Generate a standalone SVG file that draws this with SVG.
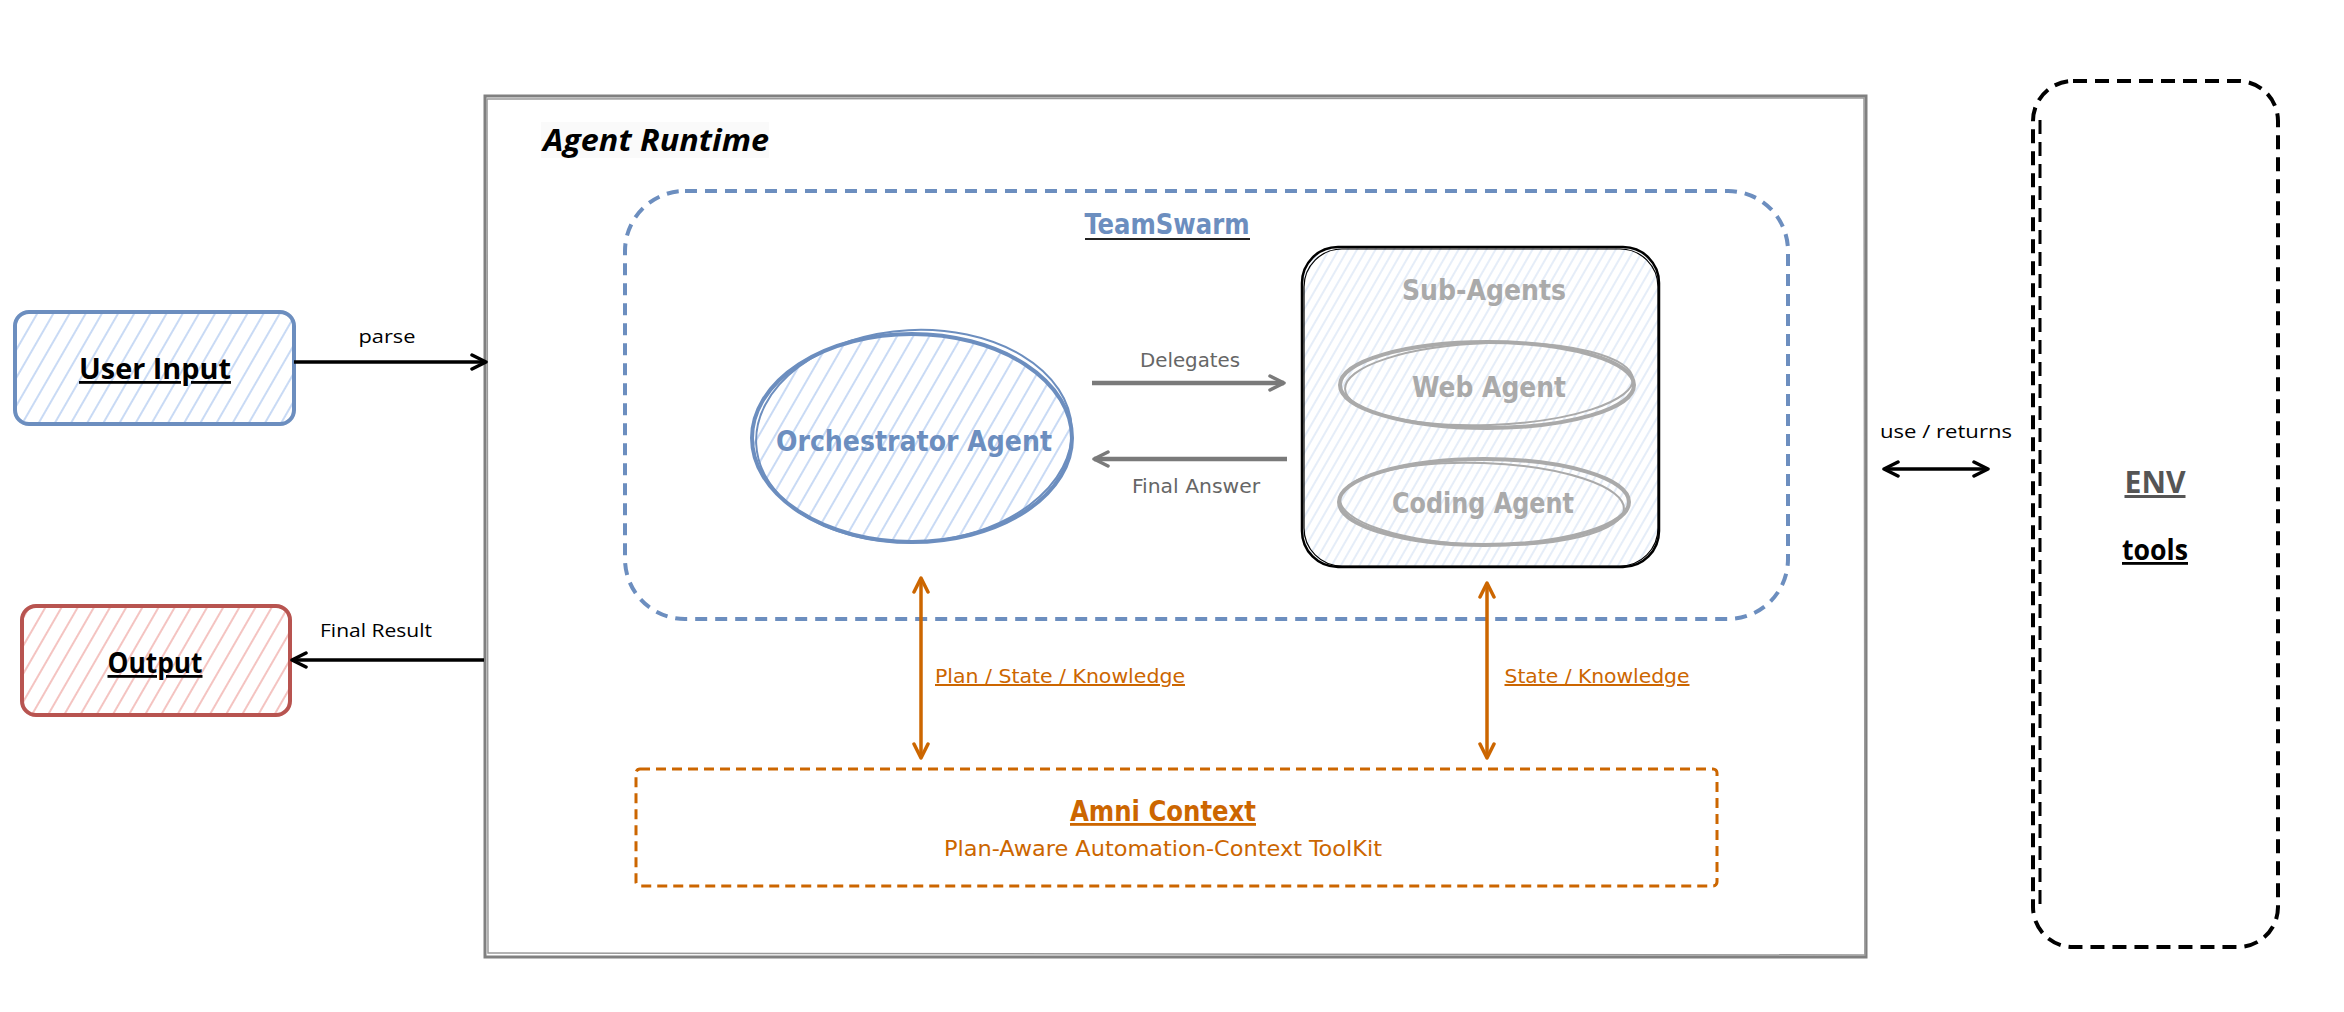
<svg xmlns="http://www.w3.org/2000/svg" width="2344" height="1012" viewBox="0 0 2344 1012">
<style>
.hand{font-family:"Liberation Sans Narrow","DejaVu Sans Condensed","Roboto",sans-serif}
.round{font-family:"Open Sans","Noto Sans","DejaVu Sans",sans-serif}
.ul{text-decoration:underline}
.b{font-weight:bold}
</style>
<defs>
<pattern id="hBlue" width="14" height="14" patternUnits="userSpaceOnUse" patternTransform="rotate(30)">
<line x1="7" y1="0" x2="7" y2="14" stroke="#bfd4f3" stroke-width="1.7"/>
</pattern>
<pattern id="hRed" width="14" height="14" patternUnits="userSpaceOnUse" patternTransform="rotate(30)">
<line x1="7" y1="0" x2="7" y2="14" stroke="#f2b9b6" stroke-width="1.7"/>
</pattern>
<pattern id="hSub" width="8" height="8" patternUnits="userSpaceOnUse" patternTransform="rotate(30)">
<line x1="4" y1="0" x2="4" y2="8" stroke="#d3e1f4" stroke-width="1.2"/>
</pattern>
<marker id="aBlack" viewBox="0 0 20 20" refX="18" refY="10" markerWidth="20" markerHeight="20" markerUnits="userSpaceOnUse" orient="auto-start-reverse">
<path d="M4,3 L18,10 L4,17" fill="none" stroke="#000" stroke-width="3.5" stroke-linecap="round" stroke-linejoin="round"/>
</marker>
<marker id="aGray" viewBox="0 0 20 20" refX="18" refY="10" markerWidth="20" markerHeight="20" markerUnits="userSpaceOnUse" orient="auto-start-reverse">
<path d="M4,3 L18,10 L4,17" fill="none" stroke="#7a7a7a" stroke-width="3.5" stroke-linecap="round" stroke-linejoin="round"/>
</marker>
<marker id="aOrange" viewBox="0 0 20 20" refX="18" refY="10" markerWidth="20" markerHeight="20" markerUnits="userSpaceOnUse" orient="auto-start-reverse">
<path d="M4,3 L18,10 L4,17" fill="none" stroke="#cc6600" stroke-width="3.5" stroke-linecap="round" stroke-linejoin="round"/>
</marker>
</defs>

<rect width="2344" height="1012" fill="#ffffff"/>

<g id="agent-runtime">
<rect x="485" y="96" width="1381" height="861" fill="none" stroke="#808080" stroke-width="3"/>
<path d="M487,99 L1864,98 L1865,955 L488,953 Z" fill="none" stroke="#9a9a9a" stroke-width="1.5"/>
<rect x="541" y="122" width="228" height="36" fill="#fafafa"/>
<text x="543" y="151" class="round b" font-style="italic" font-size="30" fill="#000" textLength="226" lengthAdjust="spacingAndGlyphs">Agent Runtime</text>
</g>

<g id="teamswarm">
<rect x="625" y="191" width="1163" height="428" rx="60" fill="none" stroke="#6c8ebf" stroke-width="4" stroke-dasharray="12 8"/>
<text x="1167" y="234" text-anchor="middle" class="hand b" font-size="28" fill="#6c8ebf" textLength="165" lengthAdjust="spacingAndGlyphs">TeamSwarm</text>
<line x1="1085" y1="239" x2="1250" y2="239" stroke="#222" stroke-width="2"/>
</g>

<g id="user-input">
<rect x="15" y="312" width="279" height="112" rx="14" fill="url(#hBlue)" stroke="#6c8ebf" stroke-width="4"/>
<text x="155" y="379" text-anchor="middle" class="round b ul" font-size="28" fill="#000" textLength="152" lengthAdjust="spacingAndGlyphs">User Input</text>
</g>

<g id="output">
<rect x="22" y="606" width="268" height="109" rx="14" fill="url(#hRed)" stroke="#b85450" stroke-width="4"/>
<text x="155" y="673" text-anchor="middle" class="round b ul" font-size="28" fill="#000" textLength="95" lengthAdjust="spacingAndGlyphs">Output</text>
</g>

<g id="orchestrator">
<ellipse cx="912" cy="438" rx="160" ry="104" fill="url(#hBlue)" stroke="#6c8ebf" stroke-width="4"/>
<ellipse cx="914" cy="436" rx="158" ry="106" fill="none" stroke="#6c8ebf" stroke-width="2" transform="rotate(-3 914 436)"/>
<text x="914" y="451" text-anchor="middle" class="hand b" font-size="28" fill="#6c8ebf" textLength="276" lengthAdjust="spacingAndGlyphs">Orchestrator Agent</text>
</g>

<g id="sub-agents">
<rect x="1302" y="247" width="357" height="320" rx="36" fill="url(#hSub)" stroke="#000" stroke-width="2.5"/>
<rect x="1304" y="249" width="354" height="317" rx="38" fill="none" stroke="#000" stroke-width="1.2"/>
<text x="1484" y="300" text-anchor="middle" class="hand b" font-size="28" fill="#aaaaaa" textLength="164" lengthAdjust="spacingAndGlyphs">Sub-Agents</text>
</g>

<g id="web-agent">
<ellipse cx="1487" cy="385" rx="147" ry="43" fill="none" stroke="#aaaaaa" stroke-width="4"/>
<ellipse cx="1489" cy="384" rx="144" ry="41" fill="none" stroke="#aaaaaa" stroke-width="2" transform="rotate(-2 1489 384)"/>
<text x="1489" y="397" text-anchor="middle" class="hand b" font-size="28" fill="#aaaaaa" textLength="154" lengthAdjust="spacingAndGlyphs">Web Agent</text>
</g>

<g id="coding-agent">
<ellipse cx="1484" cy="502" rx="145" ry="43" fill="none" stroke="#aaaaaa" stroke-width="4"/>
<ellipse cx="1482" cy="504" rx="142" ry="41" fill="none" stroke="#aaaaaa" stroke-width="2" transform="rotate(2 1482 504)"/>
<text x="1483" y="513" text-anchor="middle" class="hand b" font-size="28" fill="#aaaaaa" textLength="182" lengthAdjust="spacingAndGlyphs">Coding Agent</text>
</g>

<g id="amni-context">
<rect x="636" y="769" width="1081" height="117" rx="4" fill="none" stroke="#cc6600" stroke-width="3" stroke-dasharray="10 6"/>
<text x="1163" y="821" text-anchor="middle" class="hand b ul" font-size="28" fill="#cc6600" textLength="186" lengthAdjust="spacingAndGlyphs">Amni Context</text>
<text x="1163" y="856" text-anchor="middle" class="hand" font-size="22" fill="#cc6600" textLength="438" lengthAdjust="spacingAndGlyphs">Plan-Aware Automation-Context ToolKit</text>
</g>

<g id="env">
<rect x="2033" y="81" width="245" height="866" rx="40" fill="none" stroke="#000" stroke-width="4" stroke-dasharray="14 8"/>
<path d="M2040,120 L2040,910" fill="none" stroke="#000" stroke-width="3" stroke-dasharray="14 8"/>
<text x="2155" y="493" text-anchor="middle" class="round b ul" font-size="30" fill="#555555" textLength="61" lengthAdjust="spacingAndGlyphs">ENV</text>
<text x="2155" y="560" text-anchor="middle" class="round b ul" font-size="28" fill="#000" textLength="66" lengthAdjust="spacingAndGlyphs">tools</text>
</g>

<g id="connectors">
<line x1="294" y1="362" x2="486" y2="362" stroke="#000" stroke-width="3.5" marker-end="url(#aBlack)"/>
<text x="387" y="343" text-anchor="middle" class="round" font-size="18" fill="#000" textLength="57" lengthAdjust="spacingAndGlyphs">parse</text>

<line x1="484" y1="660" x2="292" y2="660" stroke="#000" stroke-width="3.5" marker-end="url(#aBlack)"/>
<text x="376" y="637" text-anchor="middle" class="round" font-size="18" fill="#000" textLength="112" lengthAdjust="spacingAndGlyphs">Final Result</text>

<line x1="1092" y1="383" x2="1284" y2="383" stroke="#7a7a7a" stroke-width="4.5" marker-end="url(#aGray)"/>
<text x="1190" y="367" text-anchor="middle" class="hand" font-size="20" fill="#666666" textLength="100" lengthAdjust="spacingAndGlyphs">Delegates</text>

<line x1="1287" y1="459" x2="1094" y2="459" stroke="#7a7a7a" stroke-width="4.5" marker-end="url(#aGray)"/>
<text x="1196" y="493" text-anchor="middle" class="hand" font-size="20" fill="#666666" textLength="128" lengthAdjust="spacingAndGlyphs">Final Answer</text>

<line x1="921" y1="578" x2="921" y2="758" stroke="#cc6600" stroke-width="3.5" marker-start="url(#aOrange)" marker-end="url(#aOrange)"/>
<text x="1060" y="683" text-anchor="middle" class="hand ul" font-size="20" fill="#cc6600" textLength="250" lengthAdjust="spacingAndGlyphs">Plan / State / Knowledge</text>

<line x1="1487" y1="583" x2="1487" y2="758" stroke="#cc6600" stroke-width="3.5" marker-start="url(#aOrange)" marker-end="url(#aOrange)"/>
<text x="1597" y="683" text-anchor="middle" class="hand ul" font-size="20" fill="#cc6600" textLength="185" lengthAdjust="spacingAndGlyphs">State / Knowledge</text>

<line x1="1884" y1="469" x2="1988" y2="469" stroke="#000" stroke-width="3.5" marker-start="url(#aBlack)" marker-end="url(#aBlack)"/>
<text x="1946" y="438" text-anchor="middle" class="round" font-size="18" fill="#000" textLength="132" lengthAdjust="spacingAndGlyphs">use / returns</text>
</g>
</svg>
